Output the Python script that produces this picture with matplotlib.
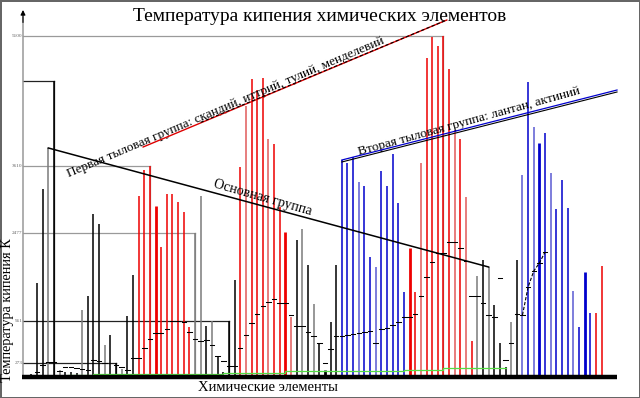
import matplotlib
matplotlib.use("Agg")
import matplotlib.pyplot as plt

# ---------------- data ----------------
title = "Температура кипения химических элементов"
xlabel = "Химические элементы"
ylabel = "Температура кипения К"

# boiling temperature (bar height) per position
boil = [35, 50, 1617, 3234, 3939, 5091, 120, 86, 86, 69,
        1152, 1393, 2804, 2632, 550, 722, 241, 138, 1049, 1754,
        3113, 3560, 3630, 2941, 2236, 3148, 3148, 3010, 2838, 860,
        2477, 3113, 877, 963, 344, 86, 963, 1668, 3612, 4661,
        5126, 4936, 5143, 4094, 4008, 2924, 2494, 1032, 2356, 2546,
        1926, 1256, 585, 120, 946, 1926, 3732, 3681, 3784, 3354,
        3285, 2064, 1892, 3543, 3285, 3836, 2993, 1462, 2219, 1462,
        3681, 5487, 5848, 5693, 5865, 5298, 4248, 4094, 3096, 619,
        1737, 2012, 1892, 1238, 585, 172, 946, 2012, 3474, 5074,
        4300, 4025, 4197, 3509, 2890, 3388, 2907, 1479, 860, 1806,
        1101, 1101, 1909]

# melting temperature (short dash) per position, None = no dash
melt = [17, 34, 86, 206, 258, 258, 103, 172, 172, 155,
        138, 120, 292, 275, 241, None, 206, 172, 120, 327,
        327, 499, 654, 757, 757, 826, 963, 963, 946, 774,
        654, 619, 636, 550, 361, 275, 189, 189, 499, 722,
        929, 1084, 1221, 1290, 1342, 1273, 1273, 1066, 877, 877,
        774, 705, 585, 241, 482, 705, 705, 722, 740, 757,
        774, 791, 585, 826, 843, 894, 946, 1032, 1032, 1084,
        1393, 1720, 1978, 2133, 2133, 2322, 2322, 2219, 1995, 1393,
        1393, 1273, 1066, 1032, 1703, 292, 585, 1084, 1066, 1548,
        1823, 1961, 2150, None, None, None, None, None, None, None,
        None, None, None]

# colour class per position: k black, g grey, r red, p light red, b blue, l light blue
kind = ("kkkkgkgkkk"
        "gkkkgkkgkk"
        "rrrRrrrrrr"
        "ggkgkkkkrp"
        "rrrprrRpkg"
        "kgkKkkbbbl"
        "bblbbbbbRr"
        "prrrrrprpr"
        "gkgkkkgklb"
        "lBblbbblbB"
        "brr")

# steps of the green line near the base
green_x = [7.5, 12, 35, 46, 53, 67, 74, 85]
green_v = [35, 45, 70, 95, 110, 125, 150, 150]

# reference lines: bar index, tick label, colour
ref_bar = [74, 22, 30, 36, 16, 5]
ref_lab = ["5100", "3610", "2477", "961", "273", ""]
ref_col = ["#9a9a9a", "#9a9a9a", "#9a9a9a", "#222222", "#222222", "#222222"]

# group labels
main_label = "Основная группа"
first_label = "Первая тыловая группа: скандий, иттрий, тулий, менделевий"
second_label = "Вторая тыловая группа: лантан, актиний"

# ---------------- drawing ----------------
colors = {"k": "#000000", "K": "#000000", "g": "#7a7a7a", "r": "#ee0000", "R": "#ee0000",
          "p": "#e05a5a", "b": "#0000cc", "B": "#0000cc", "l": "#5a5ad2"}
thick = set("RKB")

fig = plt.figure(figsize=(6.4, 3.98), dpi=100)
fig.patch.set_facecolor("white")
fig.patch.set_edgecolor("#666666")
fig.patch.set_linewidth(2)
ax = fig.add_axes([0, 0, 1, 1])
ax.set_xlim(-4.553, 108.82)
ax.set_ylim(-361, 6484)
ax.axis("off")

serif = ["Liberation Serif", "DejaVu Serif"]

# reference lines and tick labels
for b, lab, c in zip(ref_bar, ref_lab, ref_col):
    ax.plot([-0.48, b], [boil[b], boil[b]], color=c, lw=0.9, zorder=1)
    ax.plot([b, b], [0, boil[b]], color=c, lw=0.9, zorder=1)
    if lab:
        ax.text(-0.6, boil[b], lab, ha="right", va="center", fontsize=3.8,
                color="#666666", family=serif)

# bars
for i, (v, c) in enumerate(zip(boil, kind)):
    ax.plot([i, i], [0, v], color=colors[c], lw=2.0 if c in thick else 1.1,
            solid_capstyle="butt", zorder=2)

# melting dashes
for i, m in enumerate(melt):
    if m is not None:
        ax.plot([i - 0.4, i + 0.4], [m, m], color="black", lw=0.75, zorder=4)
ax.plot(range(88, 93), melt[88:93], color="black", lw=0.8, ls=(0, (3, 1.5)), zorder=4)

# green line
ax.step(green_x, green_v, where="post", color="#55dd44", lw=0.9, zorder=3)

# axis with arrow
ax.plot([-0.48, -0.48], [0, 6200], color="#999999", lw=1.1, zorder=1)
ax.annotate("", xy=(-0.48, 6360), xytext=(-0.48, 6050),
            arrowprops=dict(arrowstyle="-|>", color="black", lw=0.8,
                            mutation_scale=7))
# baseline
ax.plot([-0.65, 104.7], [0, 0], color="black", lw=3.2, solid_capstyle="butt", zorder=5)

# group lines
ax.plot([4, 82], [boil[4], boil[82]], color="black", lw=1.1, zorder=5)
ax.plot([20.8, 74.6], [3956, 6140], color="#dd0000", lw=1.0, zorder=5)
ax.plot([31.0, 74.6], [4380, 6140], color="black", lw=0.8, ls=(0, (3, 2)), zorder=6)
ax.plot([56, 104.75], [boil[56], 4936], color="#0000cc", lw=0.9, zorder=5)
ax.plot([56, 104.75], [boil[56] - 34, 4902], color="black", lw=0.8, zorder=5)

# texts
ax.text(52.1, 6192, title, ha="center", va="center", fontsize=14, family=serif)
ax.text(42.9, -172, xlabel, ha="center", va="center", fontsize=10.5, family=serif)
ax.text(-3.2, 1150, ylabel, ha="center", va="center", fontsize=10.3, rotation=90,
        family=serif)
ax.text(35.5, 4630, first_label, ha="center", va="center", fontsize=9.5, rotation=23,
        family=serif, rotation_mode="anchor")
ax.text(41.9, 3079, main_label, ha="center", va="center", fontsize=10, rotation=-16,
        family=serif, rotation_mode="anchor")
ax.text(78.5, 4400, second_label, ha="center", va="center", fontsize=9.5, rotation=15.5,
        family=serif, rotation_mode="anchor")

fig.savefig("out.png", dpi=100, facecolor="white", edgecolor=fig.get_edgecolor())
